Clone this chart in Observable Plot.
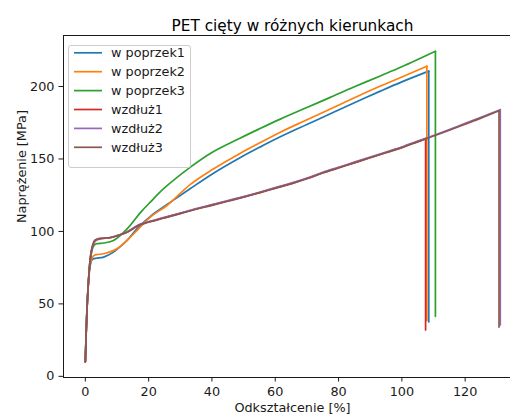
<!DOCTYPE html>
<html>
<head>
<meta charset="utf-8">
<script src="https://cdn.jsdelivr.net/npm/d3@7"></script>
<script src="https://cdn.jsdelivr.net/npm/@observablehq/plot@0.6"></script>
<style>
  html, body { margin: 0; padding: 0; background: white; overflow: hidden; }
  svg { overflow: hidden; }
</style>
</head>
<body>
<div id="chart"></div>
<script>
const title = "PET cięty w różnych kierunkach";
const xLabel = "Odkształcenie [%]";
const yLabel = "Naprężenie [MPa]";
const seriesNames = ["w poprzek1", "w poprzek2", "w poprzek3", "wzdłuż1", "wzdłuż2", "wzdłuż3"];
const seriesColors = ["#1f77b4", "#ff7f0e", "#2ca02c", "#d62728", "#9467bd", "#8c564b"];
const xTicks = [0, 20, 40, 60, 80, 100, 120];
const yTicks = [0, 50, 100, 150, 200];

// w poprzek1
const xPoprzek1 = [0, 0.5, 1, 1.5, 2, 2.5, 3.5, 5.8, 8.9, 11, 13.2, 16.3, 21.6, 26.9, 33.2, 40, 49, 55, 61.6, 70, 77.4, 85, 93.2, 100, 108.5, 108.5];
const yPoprzek1 = [10, 45, 65, 76, 80, 81, 81.5, 82.3, 85.7, 89.5, 93.8, 101.8, 112.2, 120.2, 129.6, 139.5, 151, 158, 165.3, 173.8, 181.2, 188.8, 196.8, 203.2, 210.6, 37.5];
// w poprzek2
const xPoprzek2 = [0, 0.5, 1, 1.5, 2, 2.5, 3.5, 5.8, 10, 15.3, 20.5, 25.8, 33.2, 40, 49, 55, 61.6, 70, 77.4, 85, 93.2, 100, 107.9, 107.9];
const yPoprzek2 = [10, 45, 66, 77, 81, 83, 84, 84.6, 88, 98.4, 109.9, 117.9, 132.5, 142.5, 154, 161, 168.5, 177, 184.5, 192.2, 200.3, 206.6, 214, 38.5];
// w poprzek3
const xPoprzek3 = [0, 0.5, 1, 1.5, 2, 2.6, 3.5, 5.8, 8.9, 13.2, 17.4, 20.5, 25, 33.2, 40, 49, 55, 61.6, 70, 77.4, 85, 93.2, 100, 110.6, 110.6];
const yPoprzek3 = [10, 45, 66, 79, 86, 90, 91.5, 92, 93.8, 101.8, 113, 120.2, 130, 144.4, 154.5, 164.5, 170.8, 177.5, 185.5, 192.5, 199.8, 207.3, 213.6, 224.3, 41.4];
// wzdłuż1
const xWzdluz1 = [0, 0.5, 1, 1.5, 2, 2.5, 3, 3.7, 5, 8, 10, 13, 17, 20, 25, 30, 35, 40, 45, 50, 55, 60, 65, 70, 75, 80, 85, 90, 95, 100, 105, 107.5, 107.5];
const yWzdluz1 = [10, 45, 66, 80, 87, 91, 93, 94.3, 95, 95.7, 97, 99.3, 104.5, 106.5, 109.5, 112.5, 115.5, 118.3, 121, 123.8, 126.8, 130, 133, 136.5, 140.5, 144, 147.5, 151, 154.5, 158, 162, 164, 32];
// wzdłuż2
const xWzdluz2 = [0, 0.5, 1, 1.5, 2, 2.5, 3, 3.7, 5, 8, 10, 13, 17, 20, 25, 30, 35, 40, 45, 50, 55, 60, 65, 70, 75, 80, 85, 90, 95, 100, 105, 110, 115, 120, 125, 131.1, 131.1];
const yWzdluz2 = [10, 45, 66, 80, 87, 91, 93, 94.5, 95.2, 95.8, 97.2, 99.5, 104.7, 106.7, 109.7, 112.7, 115.7, 118.5, 121.3, 124, 127, 130.2, 133.3, 136.8, 140.8, 144.3, 147.8, 151.3, 154.8, 158.3, 162.3, 166.2, 170.3, 174.6, 178.8, 184, 35.5];
// wzdłuż3
const xWzdluz3 = [0, 0.5, 1, 1.5, 2, 2.5, 3, 3.7, 5, 8, 10, 13, 17, 20, 25, 30, 35, 40, 45, 50, 55, 60, 65, 70, 75, 80, 85, 90, 95, 100, 105, 110, 115, 120, 125, 130.7, 130.7];
const yWzdluz3 = [10, 45, 66, 80, 88, 92, 94, 94.8, 95.3, 95.8, 97, 99.2, 104.3, 106.3, 109.3, 112.3, 115.3, 118, 120.8, 123.6, 126.6, 129.7, 132.8, 136.3, 140.3, 143.8, 147.3, 150.8, 154.3, 157.8, 161.8, 165.8, 169.8, 174, 178.2, 183.3, 34];

const xs = [xPoprzek1, xPoprzek2, xPoprzek3, xWzdluz1, xWzdluz2, xWzdluz3];
const ys = [yPoprzek1, yPoprzek2, yPoprzek3, yWzdluz1, yWzdluz2, yWzdluz3];
// body of each curve (all but the final break point) and the vertical break (last two points)
const bodyRows = seriesNames.flatMap((s, i) => xs[i].slice(0, -1).map((x, j) => ({s, x, y: ys[i][j]})));
const dropRows = seriesNames.flatMap((s, i) => xs[i].slice(-2).map((x, j) => ({s, x, y: ys[i][xs[i].length - 2 + j]})));

const FONT = "DejaVu Sans";
const ink = "#1a1a1a";

const lineMarks = seriesNames.flatMap((s) => [
  Plot.line(bodyRows.filter(d => d.s === s), {x: "x", y: "y", stroke: "s", strokeWidth: 1.7, curve: "catmull-rom"}),
  Plot.line(dropRows.filter(d => d.s === s), {x: "x", y: "y", stroke: "s", strokeWidth: 1.7})
]);

const plot = Plot.plot({
  width: 510,
  height: 416,
  marginTop: 35,
  marginBottom: 39,
  marginLeft: 63,
  marginRight: 0,
  style: {fontFamily: FONT, fontSize: "12.8px", background: "white", color: ink},
  x: {domain: [-6.9, 137.8], range: [63, 521]},
  y: {domain: [-0.8, 235.2]},
  color: {domain: seriesNames, range: seriesColors},
  marks: [
    ...lineMarks,
    Plot.frame({anchor: "left", stroke: ink, strokeWidth: 1}),
    Plot.frame({anchor: "top", stroke: ink, strokeWidth: 1}),
    Plot.frame({anchor: "bottom", stroke: ink, strokeWidth: 1}),
    Plot.axisX({ticks: xTicks, tickSize: 4.5, tickPadding: 4.5, label: null, fontSize: 12.8, stroke: ink}),
    Plot.axisY({ticks: yTicks, tickSize: 4.5, tickPadding: 4.5, label: null, fontSize: 12.8, stroke: ink}),
    Plot.text([xLabel], {frameAnchor: "bottom", dx: 5.5, dy: 34, fontSize: 12.8, fill: ink}),
    Plot.text([title], {frameAnchor: "top", dx: 5.5, dy: -15, fontSize: 15.3, fill: "#000"}),
    Plot.text([yLabel], {frameAnchor: "left", rotate: -90, dx: -42, dy: 16.5, fontSize: 12.8, fill: ink})
  ]
});

// Legend (matplotlib-style box in upper left)
const svg = d3.select(plot);
const lg = svg.append("g").attr("font-family", FONT).attr("font-size", 12.8).attr("text-anchor", "start");
lg.append("rect")
  .attr("x", 68.5).attr("y", 45.5).attr("width", 122).attr("height", 122)
  .attr("rx", 2.5).attr("fill", "white").attr("fill-opacity", 0.8)
  .attr("stroke", "#cccccc").attr("stroke-width", 1);
seriesNames.forEach((name, i) => {
  const cy = 52.8 + i * 18.9;
  lg.append("line").attr("x1", 74).attr("x2", 102).attr("y1", cy).attr("y2", cy)
    .attr("stroke", seriesColors[i]).attr("stroke-width", 1.7);
  lg.append("text").attr("x", 111).attr("y", cy).attr("dy", "0.35em")
    .attr("fill", ink).attr("text-anchor", "start").text(name);
});

document.getElementById("chart").appendChild(plot);
</script>
</body>
</html>
